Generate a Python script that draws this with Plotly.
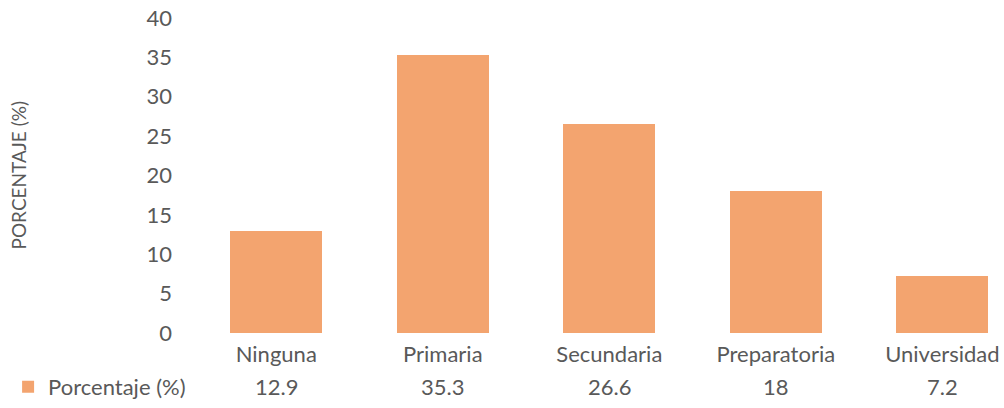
import plotly.graph_objects as go

categories = ["Ninguna", "Primaria", "Secundaria", "Preparatoria", "Universidad"]
values = [12.9, 35.3, 26.6, 18, 7.2]
value_labels = ["12.9", "35.3", "26.6", "18", "7.2"]
series_name = "Porcentaje (%)"
y_title = "PORCENTAJE (%)"

FONT = "Lato"
GREY = "#595959"
BAR = "#F3A46F"
FS = 22

fig = go.Figure()
fig.add_trace(go.Bar(
    x=list(range(len(categories))), y=values, name=series_name,
    marker=dict(color=BAR, line=dict(width=0)), width=0.553,
    showlegend=True,
))

for i, lab in enumerate(value_labels):
    fig.add_annotation(x=i, y=-0.171, xref="x", yref="paper", text=lab,
                       showarrow=False, font=dict(family=FONT, size=FS, color=GREY),
                       xanchor="center", yanchor="middle")

fig.add_annotation(x=-175 / 811, y=0.5, xref="paper", yref="paper", text=y_title,
                   textangle=-90, showarrow=False,
                   font=dict(family=FONT, size=19, color=GREY),
                   xanchor="center", yanchor="middle")

fig.update_layout(
    width=1004, height=408,
    margin=dict(l=193, r=0, t=18, b=72),
    paper_bgcolor="white", plot_bgcolor="white",
    font=dict(family=FONT, size=FS, color=GREY),
    showlegend=True,
    legend=dict(x=-0.228, y=-0.171, xref="paper", yref="paper", xanchor="left", yanchor="middle",
                font=dict(family=FONT, size=FS, color=GREY), bgcolor="rgba(0,0,0,0)",
                itemwidth=30, tracegroupgap=0),
    xaxis=dict(range=[-0.5, 4.37], tickmode="array", tickvals=list(range(len(categories))),
               ticktext=categories, showgrid=False, zeroline=False, showline=False,
               ticks="", ticklabelstandoff=6, tickfont=dict(family=FONT, size=FS, color=GREY)),
    yaxis=dict(range=[0, 40], dtick=5, showgrid=False, zeroline=False, showline=False,
               ticks="", ticklabelstandoff=20, tickfont=dict(family=FONT, size=FS, color=GREY)),
    bargap=0,
)

fig.write_html("out.html")
